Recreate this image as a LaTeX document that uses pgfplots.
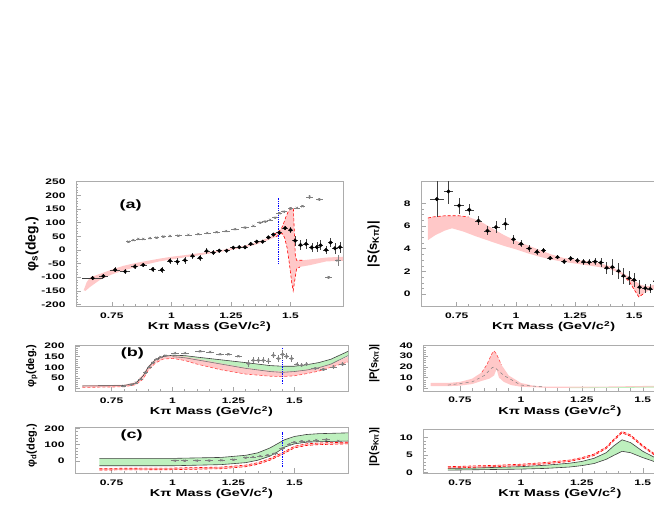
\documentclass[border=0pt]{standalone}
\usepackage{pgfplots}
\pgfplotsset{compat=1.18}
\usepackage{pgfplotstable}
\usepackage{fontspec}
\setmainfont{Liberation Sans}
\usepackage{graphicx}

\definecolor{lgreen}{RGB}{190,240,190}
\definecolor{lpink}{RGB}{255,200,200}

\newcommand{\tl}[1]{\scalebox{1.5}[1]{\bfseries\fontsize{8}{9}\selectfont #1}}
\newcommand{\xl}{\scalebox{1.45}[1]{\bfseries\fontsize{10}{12}\selectfont Kπ Mass (GeV/c\textsuperscript{2})}}
\newcommand{\pl}[1]{\scalebox{1.5}[1]{\bfseries\fontsize{12}{14}\selectfont #1}}

\pgfplotsset{
 rootax/.style={
  scale only axis, anchor=south west,
  xmin=0.6, xmax=1.72,
  axis line style={gray!65, line width=0.6pt},
  tick align=inside, xtick pos=left, ytick pos=left,
  major tick length=5pt, minor tick length=2.5pt,
  every tick/.append style={gray!70, line width=0.5pt},
  xtick={0.75,1,1.25,1.5}, minor x tick num=4,
  /pgf/number format/assume math mode=true,
  xticklabel={\tl{\pgfmathprintnumber{\tick}}},
  yticklabel={\tl{\pgfmathprintnumber{\tick}}},
  xticklabel style={anchor=center, yshift=-9pt},
  yticklabel style={anchor=east, xshift=-7pt},
  xlabel={\xl},
  every axis x label/.style={at={(axis description cs:0.5,0)}, anchor=center, yshift=-20pt},
 },
 blk/.style={only marks, mark=*, mark size=1.8pt, black,
   error bars/.cd, x dir=both, x explicit, y dir=both, y explicit,
   error mark=none, error bar style={black!75, line width=0.5pt}},
 gry/.style={only marks, mark=x, mark size=1.6pt, gray, mark options={line width=0.5pt},
   error bars/.cd, x dir=both, x explicit, y dir=both, y explicit,
   error mark=none, error bar style={gray, line width=0.5pt}},
 rdash/.style={red, dashed, dash pattern=on 3pt off 2pt, line width=0.6pt},
 gline/.style={black!75, line width=0.6pt},
}

\pgfplotstableread{
x y ex ey
0.670 -103 0.045 8
0.715 -96 0.02 8
0.764 -73 0.02 9
0.806 -79 0.02 9
0.847 -61 0.015 8
0.882 -55 0.015 8
0.922 -71 0.015 10
0.960 -73 0.015 12
0.994 -40 0.012 12
1.025 -43 0.012 12
1.057 -38 0.012 12
1.089 -22 0.012 12
1.120 -29 0.012 10
1.148 -4 0.012 10
1.176 -10 0.012 8
1.201 -3 0.012 6
1.232 -3 0.012 6
1.260 8 0.012 6
1.285 10 0.012 6
1.309 10 0.012 6
1.333 22 0.012 6
1.358 30 0.012 6
1.383 30 0.012 6
1.407 46 0.012 6
1.428 56 0.012 6
1.453 63 0.012 8
1.477 80 0.012 8
1.500 73 0.012 10
1.519 34 0.012 18
1.542 18 0.012 18
1.565 22 0.012 18
1.589 9 0.012 18
1.610 10 0.012 18
1.626 17 0.012 18
1.649 0 0.012 15
1.668 27 0.012 15
1.686 6 0.012 20
1.707 10 0.012 20
}\phisblack

\pgfplotstableread{
x y ex ey
0.820 30 0.01 3
0.840 36 0.01 3
0.861 40 0.01 3
0.882 40 0.01 3
0.910 43 0.01 3
0.938 45 0.01 3
0.966 49 0.01 3
0.994 51 0.01 3
1.029 52 0.015 3
1.071 55 0.015 3
1.113 58 0.015 3
1.150 62 0.015 3
1.190 65 0.015 3
1.229 69 0.015 3
1.267 76 0.015 3
1.309 82 0.015 3
1.344 88 0.012 3
1.372 100 0.012 3
1.393 104 0.012 3
1.414 110 0.012 3
1.435 118 0.012 4
1.453 134 0.012 4
1.472 140 0.012 4
1.500 152 0.012 4
1.526 154 0.012 4
1.550 160 0.012 4
1.580 194 0.015 6
1.620 185 0.015 6
1.660 -100 0.015 6
1.698 -39 0.012 20
}\phisgray

\pgfplotstableread{
x y ex ey
0.666 8.37 0.03 1.6
0.715 9.04 0.02 1.1
0.760 7.80 0.02 0.7
0.803 7.43 0.02 0.5
0.842 6.46 0.015 0.4
0.880 5.58 0.015 0.4
0.916 5.90 0.015 0.5
0.956 6.19 0.015 0.5
0.990 4.84 0.012 0.4
1.022 4.43 0.012 0.3
1.056 4.02 0.012 0.3
1.089 3.73 0.012 0.25
1.117 3.85 0.012 0.2
1.145 3.17 0.012 0.2
1.176 3.26 0.012 0.2
1.204 2.87 0.012 0.2
1.232 3.14 0.012 0.2
1.260 2.96 0.012 0.2
1.286 2.85 0.012 0.25
1.310 2.82 0.012 0.25
1.335 2.87 0.012 0.3
1.359 2.78 0.012 0.4
1.384 2.32 0.012 0.5
1.408 2.38 0.012 0.7
1.434 2.05 0.012 0.7
1.455 1.61 0.012 0.7
1.479 1.41 0.012 0.6
1.500 1.26 0.012 0.6
1.523 0.62 0.012 0.6
1.547 0.53 0.012 0.4
1.568 0.47 0.012 0.4
1.590 1.17 0.012 0.5
}\sblack

\pgfplotstableread{
x y ex ey
0.80 12 0.01 3
0.83 18 0.01 3
0.85 27 0.01 3
0.87 45 0.01 4
0.89 75 0.01 5
0.905 100 0.01 5
0.92 122 0.01 5
0.935 138 0.01 5
0.95 148 0.01 5
0.97 155 0.01 5
1.01 167 0.015 5
1.051 167 0.015 5
1.113 175 0.02 5
1.154 172 0.015 5
1.195 161 0.015 5
1.229 161 0.015 5
1.27 152 0.015 5
1.311 118 0.01 15
1.331 133 0.01 15
1.352 133 0.01 15
1.372 133 0.01 15
1.393 130 0.01 15
1.414 157 0.01 15
1.434 141 0.01 15
1.452 161 0.01 20
1.468 152 0.01 15
1.489 141 0.01 15
1.51 115 0.01 10
1.53 110 0.01 10
1.55 115 0.01 10
1.585 95 0.015 8
1.619 90 0.015 8
1.66 102 0.015 8
1.698 115 0.015 8
}\phipgray

\pgfplotstableread{
x y ex ey
1.01 2 0.015 4
1.05 2 0.015 4
1.10 3 0.015 4
1.15 3 0.015 4
1.20 5 0.015 4
1.25 8 0.015 4
1.30 20 0.012 5
1.33 25 0.012 5
1.36 30 0.012 5
1.39 35 0.012 5
1.42 45 0.012 6
1.45 75 0.012 8
1.48 100 0.012 8
1.50 115 0.012 8
1.53 120 0.012 8
1.56 122 0.012 8
1.59 128 0.012 8
1.63 130 0.015 8
1.68 122 0.015 8
}\phidgray

\begin{document}
\begin{tikzpicture}[x=1pt,y=1pt]
\clip (0,0) rectangle (654,510);
\path (0,0) rectangle (654,510);

% ---------------- (a) left: phi_S
\begin{axis}[rootax, at={(76pt,203.3pt)}, width=267pt, height=125pt,
  ymin=-208, ymax=250, ytick={-200,-150,...,250}, minor y tick num=4,
  ylabel={\bfseries\fontsize{14}{16}\selectfont φ\textsubscript{s}(deg.)},
  every axis y label/.style={at={(axis description cs:-0.165,0.5)}, rotate=90, anchor=center}]
\addplot[fill=lpink, draw=none] coordinates {
(0.632,-148) (0.645,-118) (0.66,-100) (0.70,-88) (0.75,-72) (0.80,-58) (0.85,-48) (0.90,-40) (0.95,-32) (1.00,-25) (1.05,-20) (1.10,-14) (1.15,-8) (1.20,-2) (1.25,6) (1.30,14) (1.35,26) (1.40,42) (1.43,56) (1.46,75) (1.47,95) (1.48,120) (1.49,140) (1.505,155) (1.512,150) (1.516,60) (1.52,-20) (1.525,-38) (1.55,-38) (1.60,-33) (1.65,-28) (1.72,-25)
(1.72,-40) (1.65,-42) (1.62,-48) (1.58,-56) (1.54,-62) (1.525,-70) (1.518,-110) (1.511,-150) (1.505,-120) (1.495,-50) (1.485,10) (1.475,45) (1.465,60) (1.455,58) (1.44,48) (1.40,34) (1.35,18) (1.30,8) (1.25,0) (1.20,-8) (1.15,-15) (1.10,-22) (1.05,-28) (1.00,-35) (0.95,-42) (0.90,-52) (0.85,-63) (0.80,-75) (0.75,-90) (0.70,-110) (0.66,-135) (0.64,-150) (0.632,-148)};
\addplot[rdash] coordinates {(1.43,56) (1.46,75) (1.47,95) (1.48,120) (1.49,140) (1.505,155) (1.512,150) (1.516,60) (1.52,-20) (1.525,-38) (1.55,-38)};
\addplot[rdash] coordinates {(1.44,48) (1.455,58) (1.465,60) (1.475,45) (1.485,10) (1.495,-50) (1.505,-120) (1.511,-150) (1.518,-110) (1.525,-70) (1.54,-62)};
\addplot[blue, densely dotted, line width=1.3pt] coordinates {(1.45,-52) (1.45,189)};
\addplot[gry] table[x=x,y=y,x error=ex,y error=ey] {\phisgray};
\addplot[blk] table[x=x,y=y,x error=ex,y error=ey] {\phisblack};
\node at (rel axis cs:0.205,0.81) {\pl{(a)}};
\end{axis}

% ---------------- (a) right: |S|
\begin{axis}[rootax, at={(421.2pt,203.3pt)}, width=265pt, height=125pt,
  ymin=-1.1, ymax=9.9, ytick={0,2,4,6,8}, minor y tick num=3,
  ylabel={\bfseries\fontsize{13}{15}\selectfont |S(s\textsubscript{Kπ})|},
  every axis y label/.style={at={(axis description cs:-0.18,0.5)}, rotate=90, anchor=center}]
\addplot[fill=lpink, draw=none] coordinates {
(0.628,6.7) (0.65,6.8) (0.70,6.9) (0.76,6.9) (0.80,6.8) (0.85,6.4) (0.90,5.8) (0.95,5.2) (1.0,4.7) (1.05,4.3) (1.1,3.9) (1.15,3.5) (1.2,3.2) (1.25,3.05) (1.3,2.9) (1.35,2.75) (1.4,2.45) (1.45,1.9) (1.5,1.2) (1.53,0.8) (1.56,0.7) (1.6,0.9)
(1.6,0.5) (1.56,0.3) (1.54,0.05) (1.52,-0.25) (1.5,0.4) (1.48,1.1) (1.45,1.7) (1.4,2.2) (1.35,2.4) (1.3,2.55) (1.25,2.7) (1.2,2.85) (1.15,3.05) (1.1,3.3) (1.05,3.6) (1.0,3.95) (0.95,4.25) (0.9,4.6) (0.83,5.1) (0.78,5.5) (0.73,5.8) (0.70,5.6) (0.66,5.2) (0.628,4.75)};
\addplot[rdash] coordinates {(0.628,6.7) (0.65,6.8) (0.70,6.9) (0.76,6.9) (0.80,6.8)};
\addplot[rdash] coordinates {(1.45,1.7) (1.48,1.1) (1.5,0.4) (1.52,-0.25) (1.54,0.05)};
\addplot[blk] table[x=x,y=y,x error=ex,y error=ey] {\sblack};
\end{axis}

% ---------------- (b) left: phi_P
\begin{axis}[rootax, at={(75pt,118.3pt)}, width=273pt, height=46.7pt,
  ymin=-15, ymax=205, ytick={0,50,...,200}, minor y tick num=4,
  ylabel={\bfseries\fontsize{11}{13}\selectfont φ\textsubscript{p}(deg.)},
  every axis y label/.style={at={(axis description cs:-0.158,0.55)}, rotate=90, anchor=center}]
\addplot[fill=lgreen, draw=none] coordinates {
(0.63,12) (0.80,14) (0.85,25) (0.88,60) (0.90,100) (0.93,135) (0.96,150) (1.00,157) (1.05,155) (1.10,148) (1.20,135) (1.30,122) (1.40,108) (1.45,105) (1.50,105) (1.55,112) (1.60,122) (1.65,138) (1.72,175)
(1.72,155) (1.65,115) (1.60,98) (1.55,87) (1.50,80) (1.45,76) (1.40,80) (1.30,95) (1.20,115) (1.10,135) (1.05,145) (1.00,150) (0.96,145) (0.93,130) (0.90,95) (0.88,55) (0.85,22) (0.80,12) (0.63,10)};
\addplot[fill=lpink, draw=none] coordinates {
(0.63,15) (0.80,17) (0.85,30) (0.88,68) (0.90,105) (0.93,140) (0.96,152) (1.00,155) (1.05,150) (1.10,140) (1.20,118) (1.30,98) (1.40,84) (1.45,80) (1.50,82) (1.55,90) (1.60,100) (1.65,115) (1.72,150)
(1.72,125) (1.65,100) (1.60,82) (1.55,70) (1.50,60) (1.45,56) (1.40,58) (1.30,68) (1.20,88) (1.10,115) (1.05,132) (1.00,142) (0.96,138) (0.93,120) (0.90,85) (0.88,45) (0.85,18) (0.80,8) (0.63,5)};
\addplot[gline] coordinates {(0.63,12) (0.80,14) (0.85,25) (0.88,60) (0.90,100) (0.93,135) (0.96,150) (1.00,157) (1.05,155) (1.10,148) (1.20,135) (1.30,122) (1.40,108) (1.45,105) (1.50,105) (1.55,112) (1.60,122) (1.65,138) (1.72,175)};
\addplot[gline, black!55] coordinates {(1.00,150) (1.05,145) (1.10,135) (1.20,115) (1.30,95) (1.40,80) (1.45,76) (1.50,80) (1.55,87) (1.60,98) (1.65,115) (1.72,155)};
\addplot[rdash, red!70] coordinates {(0.63,5) (0.80,8) (0.85,18) (0.88,45) (0.90,85) (0.93,120) (0.96,138) (1.00,142) (1.05,132) (1.10,115) (1.20,88) (1.30,68) (1.40,58) (1.45,56) (1.50,60) (1.55,70) (1.60,82) (1.65,100) (1.72,125)};
\addplot[blue, densely dotted, line width=1.3pt] coordinates {(1.45,22) (1.45,190)};
\addplot[gry] table[x=x,y=y,x error=ex,y error=ey] {\phipgray};
\node at (rel axis cs:0.21,0.82) {\pl{(b)}};
\end{axis}

% ---------------- (b) right: |P|
\begin{axis}[rootax, at={(423.4pt,119pt)}, width=273pt, height=46pt,
  ymin=-2.5, ymax=40.5, ytick={0,10,20,30,40}, minor y tick num=4,
  ylabel={\bfseries\fontsize{11}{13}\selectfont |P(s\textsubscript{Kπ})|},
  every axis y label/.style={at={(axis description cs:-0.18,0.6)}, rotate=90, anchor=center}]
\addplot[fill=lpink, draw=none] coordinates {
(0.63,5) (0.70,5) (0.75,6) (0.80,9) (0.84,15) (0.86,22) (0.88,32) (0.89,35) (0.90,32) (0.92,22) (0.95,12) (1.00,5) (1.05,2.5) (1.10,1.5) (1.30,1.5) (1.60,2.5)
(1.60,1) (1.30,0.5) (1.10,0.5) (1.00,1.5) (0.96,3) (0.93,6) (0.91,10) (0.90,18) (0.89,12) (0.87,9) (0.84,7) (0.80,4) (0.75,2.5) (0.70,2) (0.63,2)};
\addplot[fill=lgreen, draw=none] coordinates {(1.20,0.6) (1.40,1.0) (1.60,1.8) (1.60,0.8) (1.40,0.4) (1.20,0.2)};
\addplot[gray, dashed, line width=0.5pt] coordinates {(0.70,3) (0.80,6) (0.85,12) (0.88,19) (0.89,20) (0.90,18) (0.93,12) (1.00,3) (1.10,1.2)};
\addplot[rdash, red!70] coordinates {(0.84,15) (0.86,22) (0.88,32) (0.89,35) (0.90,32) (0.92,22)};
\end{axis}

% ---------------- (c) left: phi_D
\begin{axis}[rootax, at={(75pt,36.7pt)}, width=273pt, height=46pt,
  ymin=-75, ymax=206, ytick={0,100,200}, minor y tick num=4,
  ylabel={\bfseries\fontsize{11}{13}\selectfont φ\textsubscript{d}(deg.)},
  every axis y label/.style={at={(axis description cs:-0.158,0.6)}, rotate=90, anchor=center}]
\addplot[fill=lgreen, draw=none] coordinates {
(0.70,16) (1.0,16) (1.2,22) (1.3,35) (1.35,50) (1.4,80) (1.43,105) (1.46,130) (1.5,150) (1.55,162) (1.6,167) (1.72,172)
(1.72,122) (1.6,118) (1.55,115) (1.5,105) (1.46,85) (1.43,55) (1.4,30) (1.35,5) (1.3,-10) (1.2,-22) (1.0,-29) (0.70,-29)};
\addplot[gline] coordinates {(0.70,16) (1.0,16) (1.2,22) (1.3,35) (1.35,50) (1.4,80) (1.43,105) (1.46,130) (1.5,150) (1.55,162) (1.6,167) (1.72,172)};
\addplot[gline] coordinates {(0.70,-29) (1.0,-29) (1.2,-22) (1.3,-10) (1.35,5) (1.4,30) (1.43,55) (1.46,85) (1.5,105) (1.55,115) (1.6,118) (1.72,122)};
\addplot[fill=lpink, draw=none] coordinates {
(0.70,-45) (1.0,-43) (1.2,-37) (1.3,-25) (1.35,-10) (1.4,15) (1.45,50) (1.5,90) (1.55,105) (1.6,110) (1.72,115)
(1.72,105) (1.6,100) (1.55,95) (1.5,80) (1.45,40) (1.4,5) (1.35,-20) (1.3,-35) (1.2,-47) (1.0,-53) (0.70,-55)};
\addplot[rdash] coordinates {(0.70,-45) (1.0,-43) (1.2,-37) (1.3,-25) (1.35,-10) (1.4,15) (1.45,50) (1.5,90) (1.55,105) (1.6,110) (1.72,115)};
\addplot[rdash] coordinates {(0.70,-55) (1.0,-53) (1.2,-47) (1.3,-35) (1.35,-20) (1.4,5) (1.45,40) (1.5,80) (1.55,95) (1.6,100) (1.72,105)};
\addplot[blue, densely dotted, line width=1.3pt] coordinates {(1.45,-35) (1.45,180)};
\addplot[gry] table[x=x,y=y,x error=ex,y error=ey] {\phidgray};
\node at (rel axis cs:0.207,0.82) {\pl{(c)}};
\end{axis}

% ---------------- (c) right: |D|
\begin{axis}[rootax, at={(423.4pt,36.7pt)}, width=273pt, height=44.3pt,
  ymin=-0.3, ymax=12.4, ytick={0,5,10}, minor y tick num=4,
  ylabel={\bfseries\fontsize{11}{13}\selectfont |D(s\textsubscript{Kπ})|},
  every axis y label/.style={at={(axis description cs:-0.18,0.6)}, rotate=90, anchor=center}]
\addplot[fill=lgreen, draw=none] coordinates {
(0.7,1.1) (0.8,1.2) (0.9,1.4) (1.0,1.6) (1.1,2.0) (1.2,2.6) (1.25,3.1) (1.3,4.0) (1.35,5.6) (1.38,7.5) (1.415,9.3) (1.45,8.5) (1.5,6.0) (1.55,4.2) (1.6,3.2)
(1.6,2.3) (1.55,3.0) (1.5,4.2) (1.45,5.6) (1.415,6.0) (1.38,4.8) (1.35,3.7) (1.3,2.5) (1.25,1.9) (1.2,1.5) (1.1,1.1) (1.0,0.9) (0.9,0.8) (0.8,0.7) (0.7,0.6)};
\addplot[gline] coordinates {(0.7,1.1) (0.8,1.2) (0.9,1.4) (1.0,1.6) (1.1,2.0) (1.2,2.6) (1.25,3.1) (1.3,4.0) (1.35,5.6) (1.38,7.5) (1.415,9.3) (1.45,8.5) (1.5,6.0) (1.55,4.2) (1.6,3.2)};
\addplot[gline] coordinates {(0.7,0.6) (0.8,0.7) (0.9,0.8) (1.0,0.9) (1.1,1.1) (1.2,1.5) (1.25,1.9) (1.3,2.5) (1.35,3.7) (1.38,4.8) (1.415,6.0) (1.45,5.6) (1.5,4.2) (1.55,3.0) (1.6,2.3)};
\addplot[fill=lpink, draw=none] coordinates {
(0.7,1.6) (0.8,1.8) (0.9,2.0) (1.0,2.3) (1.1,2.8) (1.2,3.5) (1.25,4.2) (1.3,5.2) (1.35,7.2) (1.38,9.4) (1.415,11.7) (1.45,10.7) (1.5,7.7) (1.55,5.2) (1.6,4.0)
(1.6,3.6) (1.55,4.8) (1.5,7.3) (1.45,10.3) (1.415,11.3) (1.38,9.0) (1.35,6.8) (1.3,4.8) (1.25,3.8) (1.2,3.1) (1.1,2.4) (1.0,1.9) (0.9,1.6) (0.8,1.4) (0.7,1.2)};
\addplot[rdash] coordinates {(0.7,1.6) (0.8,1.8) (0.9,2.0) (1.0,2.3) (1.1,2.8) (1.2,3.5) (1.25,4.2) (1.3,5.2) (1.35,7.2) (1.38,9.4) (1.415,11.7) (1.45,10.7) (1.5,7.7) (1.55,5.2) (1.6,4.0)};
\addplot[rdash] coordinates {(0.7,1.2) (0.8,1.4) (0.9,1.6) (1.0,1.9) (1.1,2.4) (1.2,3.1) (1.25,3.8) (1.3,4.8) (1.35,6.8) (1.38,9.0) (1.415,11.3) (1.45,10.3) (1.5,7.3) (1.55,4.8) (1.6,3.6)};
\end{axis}
\end{tikzpicture}
\end{document}
